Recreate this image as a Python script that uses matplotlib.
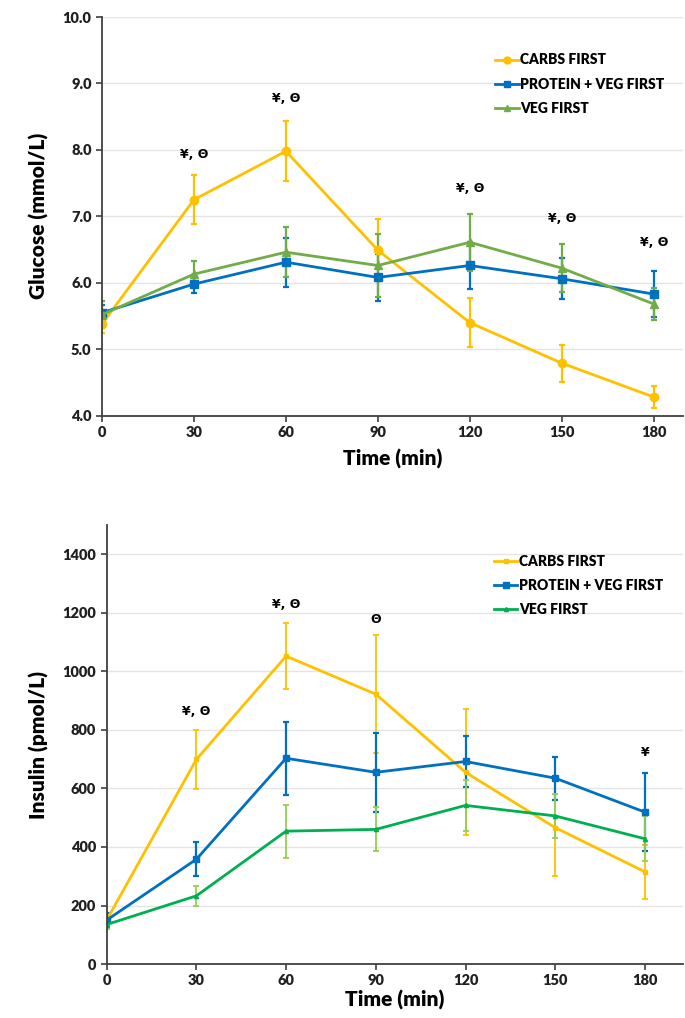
import matplotlib.pyplot as plt
from matplotlib.lines import Line2D
import numpy as np

# data
times = [0, 30, 60, 90, 120, 150, 180]
series_names = ['CARBS FIRST', 'PROTEIN + VEG FIRST', 'VEG FIRST']

glu_carbs = [5.38, 7.25, 7.98, 6.49, 5.40, 4.79, 4.28]
glu_carbs_err = [0.13, 0.37, 0.45, 0.47, 0.37, 0.28, 0.17]
glu_prot = [5.55, 5.98, 6.31, 6.08, 6.26, 6.06, 5.83]
glu_prot_err = [0.12, 0.14, 0.37, 0.35, 0.35, 0.31, 0.34]
glu_veg = [5.52, 6.13, 6.46, 6.26, 6.61, 6.22, 5.68]
glu_veg_err = [0.20, 0.20, 0.38, 0.48, 0.43, 0.36, 0.24]

ins_carbs = [150, 699, 1052, 922, 655, 466, 315]
ins_carbs_err = [20, 101, 113, 201, 215, 165, 93]
ins_prot = [150, 358, 703, 655, 692, 635, 519]
ins_prot_err = [25, 58, 124, 135, 86, 73, 133]
ins_veg = [135, 233, 454, 460, 542, 506, 428]
ins_veg_err = [15, 34, 91, 75, 86, 75, 77]

glu_marks = [(30, 7.93, '¥, Θ'), (60, 8.78, '¥, Θ'), (120, 7.42, '¥, Θ'),
             (150, 6.97, '¥, Θ'), (180, 6.60, '¥, Θ')]
ins_marks = [(30, 863, '¥, Θ'), (60, 1227, '¥, Θ'), (90, 1176, 'Θ'), (180, 723, '¥')]

W = 800
plt.rcParams['font.family'] = ['Lato', 'DejaVu Sans']
plt.rcParams['font.weight'] = W

orange = '#FFC000'
blue = '#0070C0'
green_top = '#70AD47'
green_bot = '#00B050'
green_err = '#92D050'

fig = plt.figure(figsize=(6.85, 10.18), dpi=100)
ax1 = fig.add_axes([0.1489, 0.5917, 0.848, 0.3916])
ax2 = fig.add_axes([0.1557, 0.0530, 0.8413, 0.4313])


def style_axes(ax):
    for s in ['top', 'right']:
        ax.spines[s].set_visible(False)
    for s in ['left', 'bottom']:
        ax.spines[s].set_color('#404040')
        ax.spines[s].set_linewidth(1.3)
    ax.set_xticks(times)
    ax.tick_params(axis='both', direction='out', length=4, width=1.2,
                   color='#404040', labelsize=10.5, labelcolor='#202020')
    ax.yaxis.grid(True, color='#E4E4E4', lw=1)
    ax.set_axisbelow(True)


def legend_for(ax, colors, markers, sizes, anchor):
    handles = [Line2D([], [], color=c, marker=m, ms=s, lw=2)
               for c, m, s in zip(colors, markers, sizes)]
    ax.legend(handles, series_names, loc='upper left', bbox_to_anchor=anchor,
              frameon=False, prop={'size': 10, 'weight': W}, handlelength=1.7,
              handletextpad=0.1, labelspacing=0.8)


# glucose panel
ax1.errorbar(times, glu_carbs, yerr=glu_carbs_err, color=orange, marker='o', ms=6,
             lw=2, elinewidth=1.6, capsize=2.5, capthick=1.6)
ax1.errorbar(times, glu_prot, yerr=glu_prot_err, color=blue, marker='s', ms=6,
             lw=2, elinewidth=1.6, capsize=2.5, capthick=1.6)
ax1.errorbar(times, glu_veg, yerr=glu_veg_err, color=green_top, marker='^', ms=6,
             lw=2, elinewidth=1.6, capsize=2.5, capthick=1.6)
ax1.set_xlim(0, 189.5)
ax1.set_ylim(4, 10)
ax1.set_yticks(np.arange(4, 10.5, 1))
ax1.set_yticklabels([f'{v:.1f}' for v in np.arange(4, 10.5, 1)])
style_axes(ax1)
ax1.set_ylabel('Glucose (mmol/L)', fontsize=15, fontweight=W, labelpad=10)
ax1.set_xlabel('Time (min)', fontsize=15, fontweight=W, labelpad=7)
for x, y, t in glu_marks:
    ax1.text(x, y, t, ha='center', va='center', fontsize=9, fontweight='bold',
             family=['DejaVu Sans'])
legend_for(ax1, [orange, blue, green_top], ['o', 's', '^'], [5, 5, 5], (0.655, 0.94))

# insulin panel
ax2.errorbar(times, ins_carbs, yerr=ins_carbs_err, color=orange, marker='s', ms=3,
             lw=2, elinewidth=1.3, capsize=2, capthick=1.3)
ax2.errorbar(times, ins_prot, yerr=ins_prot_err, color=blue, marker='s', ms=4,
             lw=2, elinewidth=1.6, capsize=2, capthick=1.6)
ax2.errorbar(times, ins_veg, yerr=ins_veg_err, color=green_bot, marker='^', ms=3,
             lw=2, elinewidth=1.3, capsize=2, capthick=1.3, ecolor=green_err)
ax2.set_xlim(0, 192.7)
ax2.set_ylim(0, 1500)
ax2.set_yticks(np.arange(0, 1401, 200))
style_axes(ax2)
ax2.set_ylabel('Insulin (pmol/L)', fontsize=15, fontweight=W, labelpad=10)
ax2.set_xlabel('Time (min)', fontsize=15, fontweight=W, labelpad=2)
for x, y, t in ins_marks:
    ax2.text(x, y, t, ha='center', va='center', fontsize=9, fontweight='bold',
             family=['DejaVu Sans'])
legend_for(ax2, [orange, blue, green_bot], ['s', 's', '^'], [3, 4, 3], (0.65, 0.96))

fig.savefig('out.png', dpi=100)
